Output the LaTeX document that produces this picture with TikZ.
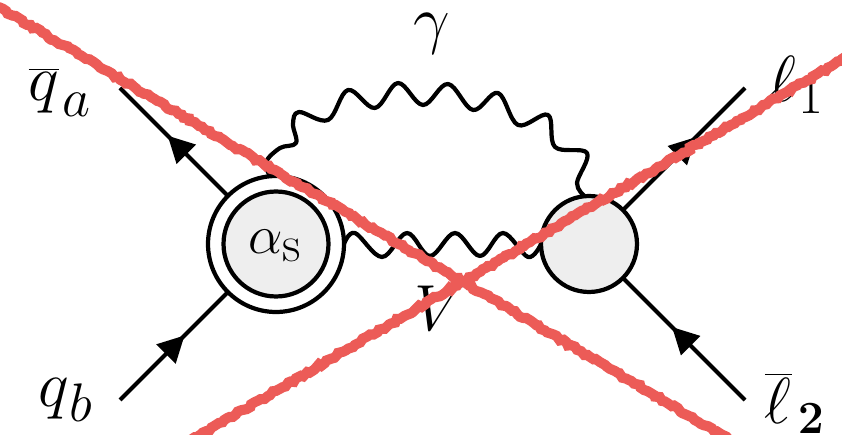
\documentclass[tikz,border=0pt]{standalone}
\usetikzlibrary{arrows.meta,decorations.pathmorphing,decorations.markings}
\definecolor{crossred}{HTML}{EC5B57}
\definecolor{blobgrey}{HTML}{EEEEEE}
\tikzset{
    every picture/.style={line width=2.4pt},
    blob/.style={circle,draw,inner sep=0pt,outer sep=0pt,fill=blobgrey},
    ring/.style={circle,draw,inner sep=0pt,outer sep=0pt,fill=white},
    lab/.style={inner sep=0pt,font=\Huge,scale=1.49},
    fermion/.style={postaction={decorate},decoration={markings,mark=at position #1 with {\arrow{Triangle[length=15pt,width=15pt]}}}},
    photon/.style={line join=round},
    crossline/.style={crossred,line width=5.8pt,decorate,decoration={random steps,segment length=2pt,amplitude=0.8pt}}
}

\begin{document}
\begin{tikzpicture}[x=0.02cm,y=-0.02cm]
    \useasboundingbox (0,0) rectangle (842,435);
    \clip (0,0) rectangle (842,435);

    % Blobs
    \node[ring,minimum size=2.72cm] (outer) at (276,244) {};
    \node[blob,minimum size=2.1cm] (inner) at (276,244) {};
    \node[lab,scale=0.84] (alpha) at (275,246) {$\alpha_{\scalebox{1.12}{$\scriptstyle\mathrm{s}$}}$};
    \node[blob,minimum size=1.92cm] (right) at (589,244) {};

    % Free ends
    \coordinate (qaend) at (120,88);
    \coordinate (qbend) at (120,400);
    \coordinate (loneend) at (745,88);
    \coordinate (ltwoend) at (745,400);

    % Fermion lines
    \draw[fermion=0.56] (outer.135) -- (qaend);
    \draw[fermion=0.6] (qbend) -- (outer.225);
    \draw[fermion=0.6] (right.45) -- (loneend);
    \draw[fermion=0.6] (ltwoend) -- (right.-45);

    % Photons
    \draw[photon] plot[smooth,tension=0.6] coordinates {(outer.95) (266,162) (280,148) (296,143) (293,124) (299,112) (328,120) (348,90) (375,108) (398,83) (423,105) (448,84) (473,110) (498,93) (518,125) (548,115) (555,147) (587,153) (577,183) (right.95)};
    \draw[photon] plot[smooth,tension=0.6] coordinates {(outer.east) (355,233) (382,257) (407,233) (430,256) (455,233) (480,256) (503,233) (528,257) (right.west)};

    % Labels
    \node[lab] (gam) at (432,34) {$\gamma$};
    \node[lab] (vee) at (440,308) {$V$};
    \node[lab] (qa) at (60,92) {$\overline{q}_{\mkern1mu a}$};
    \node[lab] (qb) at (66,400) {$q_{\mkern1mu b}$};
    \node[lab] (lone) at (797,85) {$\ell_{\mkern1mu 1}$};
    \node[lab] (ltwo) at (795,403) {$\overline{\ell}_{\mkern2mu\scalebox{.85}{$\scriptstyle\mathbf{2}$}}$};

    % Crossing out
    \coordinate (ca) at (-15,-1);
    \coordinate (cb) at (737,444);
    \coordinate (cc) at (185,444);
    \coordinate (cd) at (857,51);
    \draw[crossline] (ca) -- (cb);
    \draw[crossline] (cc) -- (cd);
\end{tikzpicture}
\end{document}
